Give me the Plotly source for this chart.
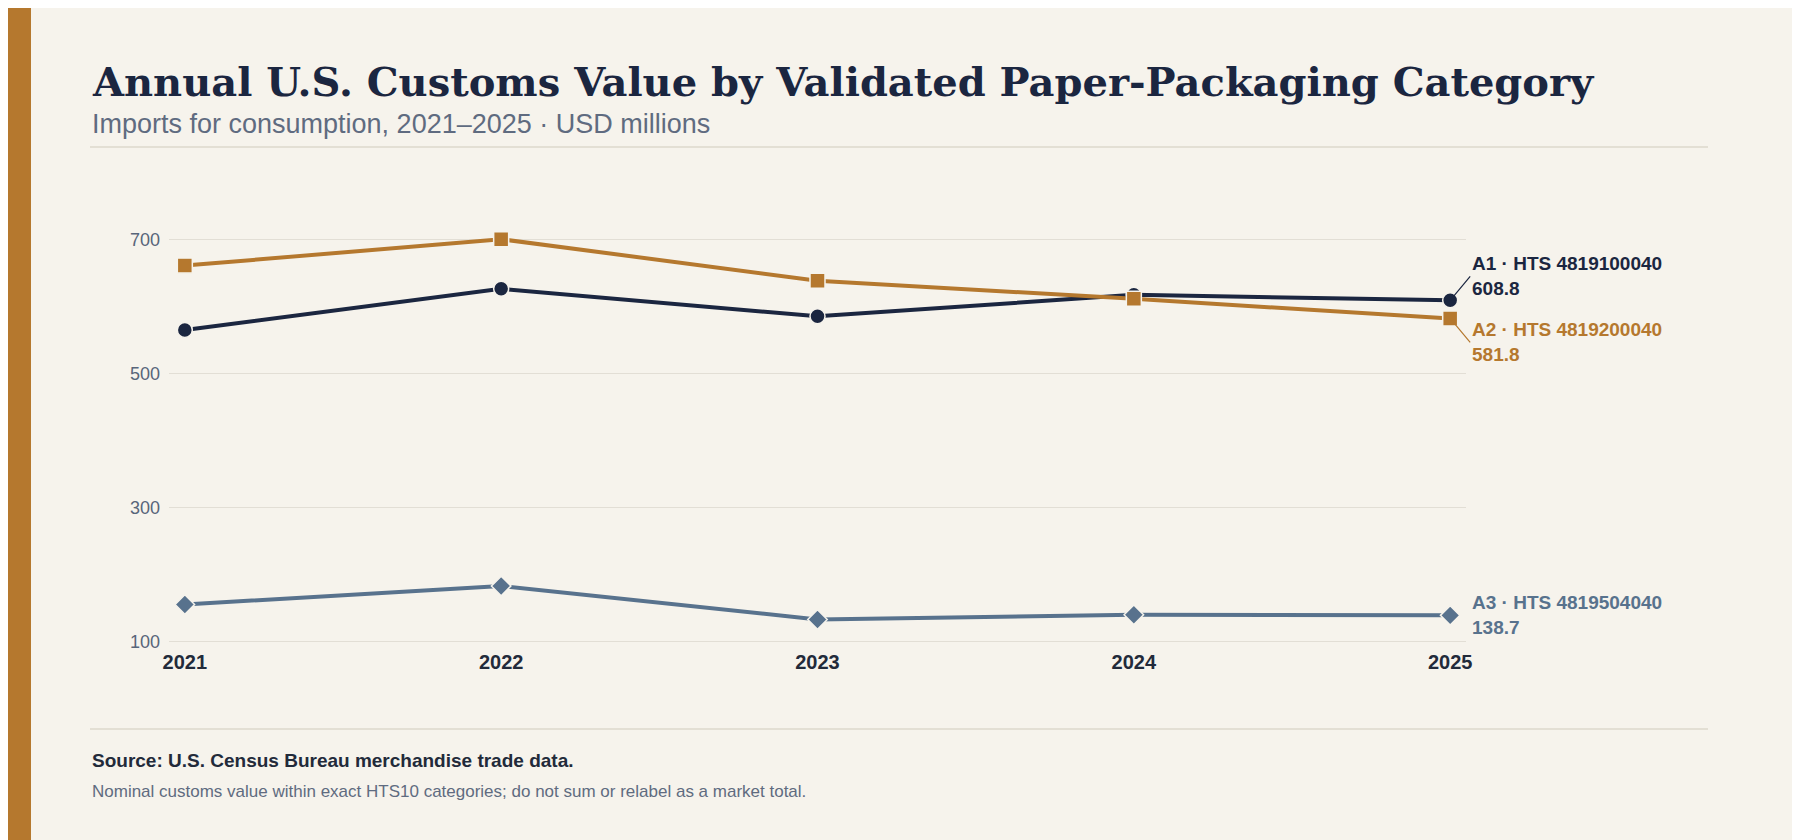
import plotly.graph_objects as go

years = [2021, 2022, 2023, 2024, 2025]
a1_values = [564.6, 626.0, 585.0, 617.0, 608.8]
a2_values = [660.6, 700.0, 638.0, 611.0, 581.8]
a3_values = [155.0, 182.6, 132.6, 139.5, 138.7]

series_names = ["A1 · HTS 4819100040", "A2 · HTS 4819200040", "A3 · HTS 4819504040"]
series_values = [a1_values, a2_values, a3_values]
colors = ["#1b2640", "#b5782e", "#58728d"]
symbols = ["circle", "square", "diamond"]
label_offsets = [(20, -24), (20, 24), (20, 0)]

bg = "#f6f3ec"
W, H = 1800, 840
L, R, T, B = 161, 342, 191, 200
PW, PH = W - L - R, H - T - B


def px_x(x):
    return (x - L) / PW


def px_y(y):
    return (H - B - y) / PH


fig = go.Figure()

for name, vals, col, sym in zip(series_names, series_values, colors, symbols):
    fig.add_trace(go.Scatter(
        x=years, y=vals, mode="lines+markers", name=name,
        line=dict(color=col, width=4),
        marker=dict(symbol=sym, size=15, color=col, line=dict(color=bg, width=1.5)),
        cliponaxis=False, showlegend=False,
    ))

# end labels
for name, vals, col, (ax, ay) in zip(series_names, series_values, colors, label_offsets):
    fig.add_annotation(
        x=years[-1], y=vals[-1], xref="x", yref="y",
        text=f"<b>{name}<br>{vals[-1]:.1f}</b>",
        showarrow=ay != 0, arrowhead=0, arrowwidth=1.2, arrowcolor=col,
        ax=ax, ay=ay, xanchor="left", yanchor="middle", align="left",
        xshift=0 if ay != 0 else 20,
        font=dict(family="Liberation Sans", size=19, color=col),
    )


def text_note(text, y, size, color, family="Liberation Sans"):
    return dict(text=text, xref="paper", yref="paper", x=px_x(82), y=px_y(y),
                xanchor="left", yanchor="middle", showarrow=False,
                font=dict(family=family, size=size, color=color))


fig.update_layout(
    width=W, height=H,
    paper_bgcolor=bg, plot_bgcolor=bg,
    margin=dict(l=L, r=R, t=T, b=B),
    font=dict(family="Liberation Sans", color="#58657a"),
    xaxis=dict(
        range=[2020.95, 2025.05], tickvals=years, ticktext=[f"<b>{y}</b>" for y in years],
        showgrid=False, zeroline=False, showline=False, ticks="",
        tickfont=dict(size=20, color="#222a3a"),
    ),
    yaxis=dict(
        range=[90, 760], tickvals=[100, 300, 500, 700],
        gridcolor="#e2ded5", gridwidth=1, zeroline=False, showline=False,
        tickfont=dict(size=18, color="#58657a"), ticklabelstandoff=8,
    ),
    shapes=[
        dict(type="rect", xref="paper", yref="paper", x0=px_x(-10), x1=px_x(23),
             y0=px_y(H + 20), y1=px_y(-20), fillcolor="#b5782e", line_width=0),
        dict(type="line", xref="paper", yref="paper", x0=px_x(82), x1=px_x(1700),
             y0=px_y(139), y1=px_y(139), line=dict(color="#ddd8cd", width=1.5)),
        dict(type="line", xref="paper", yref="paper", x0=px_x(82), x1=px_x(1700),
             y0=px_y(721), y1=px_y(721), line=dict(color="#ddd8cd", width=1.5)),
    ],
    annotations=list(fig.layout.annotations) + [
        text_note("<b>Annual U.S. Customs Value by Validated Paper-Packaging Category</b>",
                  74, 40, "#1b2640", family="DejaVu Serif"),
        text_note("Imports for consumption, 2021–2025 · USD millions", 116, 27, "#5f6b80"),
        text_note("<b>Source: U.S. Census Bureau merchandise trade data.</b>", 752, 19, "#222a3a"),
        text_note("Nominal customs value within exact HTS10 categories; do not sum or relabel as a market total.",
                  783, 17, "#5f6b80"),
    ],
)

fig.write_html("out.html")
